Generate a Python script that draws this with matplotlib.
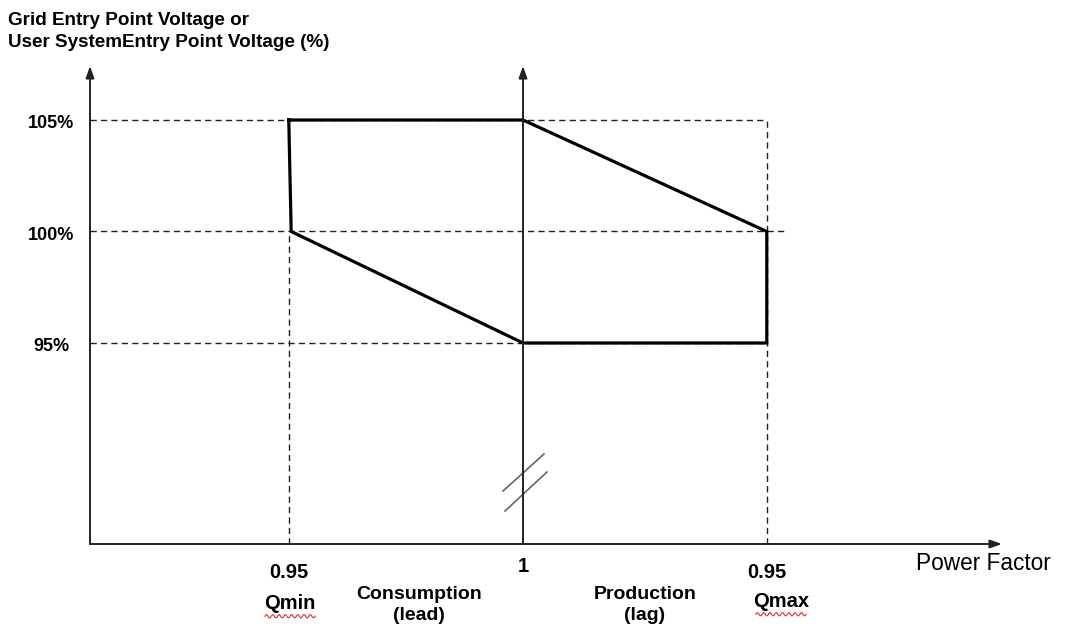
import numpy as np
import matplotlib.pyplot as plt

plt.rcParams['font.family'] = ['Liberation Sans', 'DejaVu Sans']

# power factor positions: Qmin (0.95 lead) left, unity = 0, Qmax (0.95 lag) right
pf_pos = [-0.98, 0, 1.02]
pf_labels = ["0.95", "1", "0.95"]
q_labels = ["Qmin", "", "Qmax"]

# voltage levels (%)
v_levels = [105, 100, 95]
v_labels = ["105%", "100%", "95%"]

# operating region outline (x = power factor position, y = voltage %)
region_x = [-0.98, 0, 1.02, 1.02, 0, -0.97, -0.98]
region_y = [105, 105, 100, 95, 95, 100, 105]

# pixel -> data mapping helpers used only for the canvas limits
px_per_x = 239
px_per_pct = 111.5 / 5
W, H = 1068, 628


def dx(px):
    return (px - 523) / px_per_x


def dy(py):
    return 105 - (py - 120) / px_per_pct


fig = plt.figure(figsize=(W / 100, H / 100), dpi=100)
ax = fig.add_axes([0, 0, 1, 1])
ax.set_xlim(dx(0), dx(W))
ax.set_ylim(dy(H), dy(0))
ax.axis('off')

x_left = dx(90)
y_bot = dy(544)
y_top = dy(66)
x_right = dx(1002)
q_lo, q_hi = pf_pos[0], pf_pos[2]

# dashed guides
dash = dict(color='#222222', lw=1.0, ls=(0, (4.5, 3)))
ax.plot([x_left, q_hi], [105, 105], **dash)
ax.plot([x_left, dx(786)], [100, 100], **dash)
ax.plot([x_left, q_hi], [95, 95], **dash)
ax.plot([q_lo, q_lo], [y_bot, 100], **dash)
ax.plot([q_hi, q_hi], [y_bot, 105], **dash)

# axes with arrows
arrow = dict(arrowstyle='-|>,head_length=0.7,head_width=0.25', color='#222222', lw=1.4,
             shrinkA=0, shrinkB=0)
ax.annotate('', xy=(x_left, y_top), xytext=(x_left, y_bot), arrowprops=arrow)
ax.annotate('', xy=(0, y_top), xytext=(0, y_bot), arrowprops=arrow)
ax.annotate('', xy=(x_right, y_bot), xytext=(x_left, y_bot), arrowprops=arrow)

# axis break marks on the unity axis
ax.plot([dx(503), dx(544)], [dy(491), dy(454)], color='#666666', lw=1.2)
ax.plot([dx(505), dx(547)], [dy(511), dy(472)], color='#666666', lw=1.2)

# operating region
ax.plot(region_x, region_y, color='black', lw=2.3, solid_joinstyle='miter')

# y labels
for v, lab in zip(v_levels, v_labels):
    ax.text(dx(51), v - 0.17, lab, ha='center', va='center', fontsize=13, fontweight='bold')

# x labels
for x, lab in zip(pf_pos, pf_labels):
    yy = dy(567) if lab == "1" else dy(572)
    ax.text(x, yy, lab, ha='center', va='center', fontsize=14.5, fontweight='bold')

for x, lab in zip(pf_pos, q_labels):
    if not lab:
        continue
    xc = dx(781) if x > 0 else dx(290)
    yc = dy(602) if x > 0 else dy(604)
    ax.text(xc, yc, lab, ha='center', va='center', fontsize=14.5, fontweight='bold')
    # spell-check squiggle under the word
    xs = np.linspace(xc - 0.105, xc + 0.105, 40)
    ax.plot(xs, yc - 0.55 + 0.08 * np.sin(np.linspace(0, 16 * np.pi, 40)), color='#e03030', lw=0.8)

ax.text(dx(419), dy(605), "Consumption\n(lead)", ha='center', va='center',
        fontsize=14, fontweight='bold', linespacing=1.3)
ax.text(dx(645), dy(605), "Production\n(lag)", ha='center', va='center',
        fontsize=14, fontweight='bold', linespacing=1.3)
ax.text(dx(983), dy(564), "Power Factor", ha='center', va='center', fontsize=16.3)

ax.text(dx(8), dy(25), "Grid Entry Point Voltage or",
        ha='left', va='baseline', fontsize=13.6, fontweight='bold')
ax.text(dx(8), dy(47), "User SystemEntry Point Voltage (%)",
        ha='left', va='baseline', fontsize=13.6, fontweight='bold')

fig.savefig('out.png', dpi=100)
